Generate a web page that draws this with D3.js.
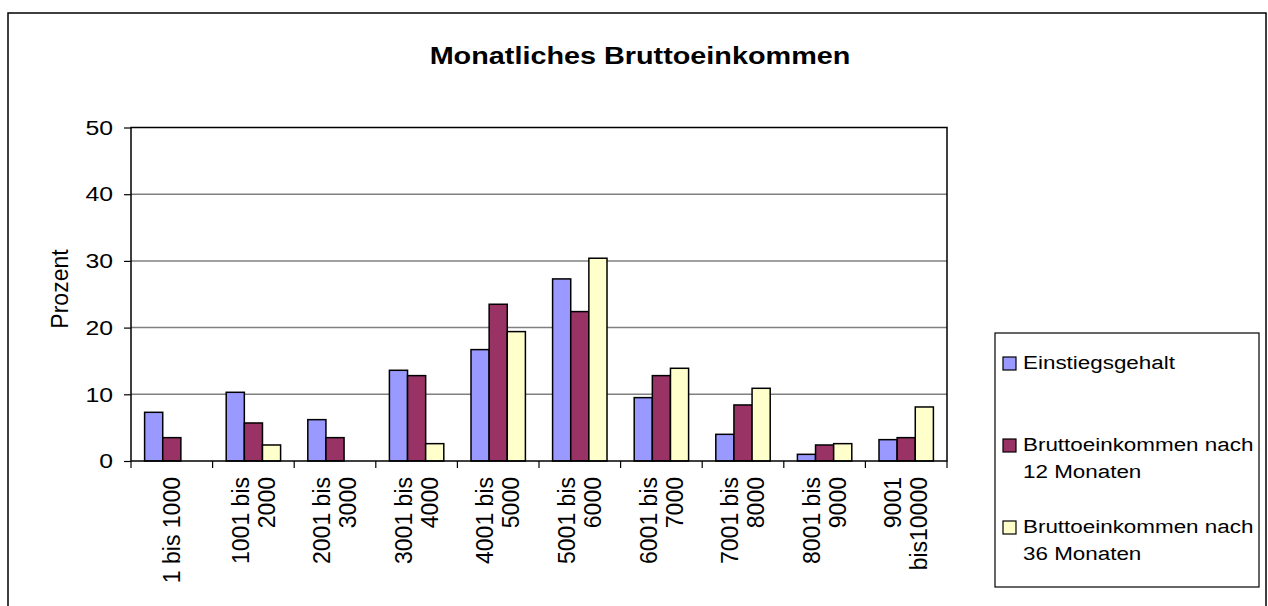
<!DOCTYPE html>
<html>
<head>
<meta charset="utf-8">
<script src="https://cdn.jsdelivr.net/npm/d3@7"></script>
<style>
  body { margin: 0; background: #fff; }
  svg { display: block; font-family: "Liberation Sans", Arial, sans-serif; }
</style>
</head>
<body>
<svg></svg>
<script>
const categories = ["1 bis 1000", "1001 bis 2000", "2001 bis 3000", "3001 bis 4000", "4001 bis 5000",
                    "5001 bis 6000", "6001 bis 7000", "7001 bis 8000", "8001 bis 9000", "9001 bis10000"];
const categoryLines = [["1 bis 1000"], ["1001 bis", "2000"], ["2001 bis", "3000"], ["3001 bis", "4000"],
                       ["4001 bis", "5000"], ["5001 bis", "6000"], ["6001 bis", "7000"], ["7001 bis", "8000"],
                       ["8001 bis", "9000"], ["9001", "bis10000"]];
const seriesNames = ["Einstiegsgehalt", "Bruttoeinkommen nach 12 Monaten", "Bruttoeinkommen nach 36 Monaten"];
const legendLines = [["Einstiegsgehalt"], ["Bruttoeinkommen nach", "12 Monaten"], ["Bruttoeinkommen nach", "36 Monaten"]];
const einstieg = [7.3, 10.3, 6.2, 13.6, 16.7, 27.3, 9.5, 4.0, 1.0, 3.2];
const nach12   = [3.5, 5.7, 3.5, 12.8, 23.5, 22.4, 12.8, 8.4, 2.4, 3.5];
const nach36   = [null, 2.4, null, 2.6, 19.4, 30.4, 13.9, 10.9, 2.6, 8.1];
const yTicks = [0, 10, 20, 30, 40, 50];
const colors = ["#9999ff", "#993366", "#ffffcc"];

const svg = d3.select("svg")
    .attr("width", 1268)
    .attr("height", 606);

svg.append("rect")
    .attr("x", 8).attr("y", 13)
    .attr("width", 1258).attr("height", 620)
    .attr("fill", "none")
    .attr("stroke", "#000")
    .attr("stroke-width", 1.5);

const plot = {left: 131, right: 947, top: 127.5, bottom: 461};

const x = d3.scaleBand()
    .domain(categories)
    .range([plot.left, plot.right]);

const x1 = d3.scaleBand()
    .domain(seriesNames)
    .range([0, x.bandwidth()])
    .paddingOuter(0.75);

const y = d3.scaleLinear()
    .domain([0, 50])
    .range([plot.bottom, plot.top]);

// gridlines
svg.append("g")
    .selectAll("line")
    .data(yTicks.slice(1, -1))
    .enter().append("line")
    .attr("x1", plot.left).attr("x2", plot.right)
    .attr("y1", d => y(d)).attr("y2", d => y(d))
    .attr("stroke", "#808080")
    .attr("stroke-width", 1.5);

// bars
const rows = categories.map((c, i) => ({cat: c, values: [einstieg[i], nach12[i], nach36[i]]}));
svg.append("g")
    .selectAll("g")
    .data(rows)
    .enter().append("g")
    .attr("transform", d => `translate(${x(d.cat)},0)`)
    .selectAll("rect")
    .data(d => d.values.map((v, j) => ({name: seriesNames[j], v, j})).filter(e => e.v != null))
    .enter().append("rect")
    .attr("x", d => x1(d.name))
    .attr("y", d => y(d.v))
    .attr("width", x1.bandwidth())
    .attr("height", d => y(0) - y(d.v))
    .attr("fill", d => colors[d.j])
    .attr("stroke", "#000")
    .attr("stroke-width", 1.5);

// plot frame
svg.append("rect")
    .attr("x", plot.left).attr("y", plot.top)
    .attr("width", plot.right - plot.left).attr("height", plot.bottom - plot.top)
    .attr("fill", "none")
    .attr("stroke", "#000")
    .attr("stroke-width", 1.5);

// y axis (labels widened like the source)
const yAxis = svg.append("g")
    .attr("transform", `translate(${plot.left},0)`)
    .call(d3.axisLeft(y).tickValues(yTicks).tickSize(7).tickPadding(0));
yAxis.select(".domain").remove();
yAxis.selectAll("line").attr("stroke", "#000").attr("stroke-width", 1.2);
yAxis.selectAll("text")
    .attr("x", 0)
    .attr("transform", "translate(-18,0) scale(1.18,1)")
    .attr("font-size", 21)
    .attr("font-family", "Liberation Sans, Arial, sans-serif")
    .attr("fill", "#000");

// x axis ticks at category boundaries
svg.append("g")
    .selectAll("line")
    .data(d3.range(categories.length + 1))
    .enter().append("line")
    .attr("x1", i => i < categories.length ? x(categories[i]) : x.range()[1])
    .attr("x2", i => i < categories.length ? x(categories[i]) : x.range()[1])
    .attr("y1", plot.bottom).attr("y2", plot.bottom + 7)
    .attr("stroke", "#000")
    .attr("stroke-width", 1.2);

// x labels, rotated
const xl = svg.append("g")
    .selectAll("text")
    .data(categories)
    .enter().append("text")
    .attr("transform", d => `translate(${x(d) + x.bandwidth() / 2},477) rotate(-90)`)
    .attr("text-anchor", "end")
    .attr("font-size", 23)
    .attr("fill", "#000");
xl.each(function(d, i) {
    const lines = categoryLines[i];
    const off = (lines.length - 1) / 2;
    d3.select(this).selectAll("tspan")
        .data(lines)
        .enter().append("tspan")
        .attr("x", 0)
        .attr("y", (l, k) => (k - off) * 26)
        .attr("dy", "0.36em")
        .text(l => l);
});

// y label
svg.append("text")
    .attr("transform", "translate(60,289) rotate(-90)")
    .attr("text-anchor", "middle")
    .attr("dy", "0.36em")
    .attr("font-size", 23)
    .attr("fill", "#000")
    .text("Prozent");

// title
svg.append("text")
    .attr("transform", "translate(640,64) scale(1.2,1)")
    .attr("text-anchor", "middle")
    .attr("font-size", 24)
    .attr("font-weight", "bold")
    .attr("fill", "#000")
    .text("Monatliches Bruttoeinkommen");

// legend
const legend = svg.append("g");
legend.append("rect")
    .attr("x", 995).attr("y", 333)
    .attr("width", 264).attr("height", 254)
    .attr("fill", "#fff")
    .attr("stroke", "#000")
    .attr("stroke-width", 1.2);
const legendTop = [357, 439, 521];
const items = legend.selectAll("g.item")
    .data(seriesNames)
    .enter().append("g")
    .attr("class", "item")
    .attr("transform", (d, i) => `translate(1003,${legendTop[i]})`);
items.append("rect")
    .attr("width", 13).attr("height", 13)
    .attr("fill", (d, i) => colors[i])
    .attr("stroke", "#000")
    .attr("stroke-width", 1.2);
items.each(function(d, i) {
    d3.select(this).selectAll("text")
        .data(legendLines[i])
        .enter().append("text")
        .attr("transform", (l, k) => `translate(20,${12 + k * 27}) scale(1.18,1)`)
        .attr("font-size", 19)
        .attr("fill", "#000")
        .text(l => l);
});
</script>
</body>
</html>
